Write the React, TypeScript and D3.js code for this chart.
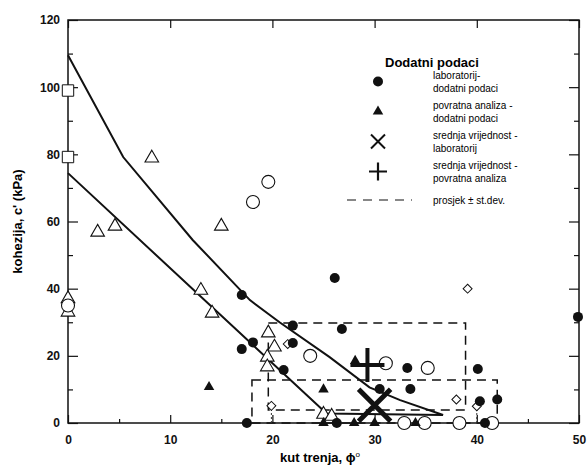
import React, { useEffect, useRef } from 'react';
import * as d3 from 'd3';

// axis ticks
const xTicks = [0, 10, 20, 30, 40, 50];
const xMinor = [5, 15, 25, 35, 45];
const yTicks = [0, 20, 40, 60, 80, 100, 120];
const yMinor = [10, 30, 50, 70, 90, 110];

// original data (open symbols) [phi, c]
const openSquares = [[0, 99], [0, 79.2]];
const openTriangles = [
  [0, 37], [0, 33], [2.9, 56.8], [4.6, 58.6], [8.2, 78.9], [15.0, 58.6],
  [13.0, 39.5], [14.1, 32.7], [19.6, 26.8], [20.2, 22.6], [19.5, 19.6],
  [19.5, 16.7], [25.0, 2.6], [25.8, 2.0],
];
const openCircles = [
  [0, 35], [19.6, 71.8], [18.1, 65.8], [23.7, 20.0], [31.1, 17.8], [35.2, 16.4],
  [32.9, 0], [34.9, 0], [38.3, 0], [41.5, 0],
];
const openDiamonds = [[19.9, 5.1], [21.5, 23.5], [38.0, 7.0], [40.0, 5.0], [39.1, 40]];
const diamondBars = [[19.9, 0, 5.1], [40.0, 0, 5.0]];

// dodatni podaci
const labExtra = [
  [17.0, 38.1], [26.1, 43.2], [17.0, 22.0], [18.1, 24.0], [22.0, 29.0],
  [26.8, 28.0], [22.0, 23.8], [21.1, 15.8], [17.5, 0], [26.3, 0],
  [30.5, 10.1], [33.5, 10.1], [33.2, 16.4], [40.1, 16.1], [40.3, 6.5],
  [42.0, 7.0], [40.8, 0], [49.9, 31.6],
];
const backExtra = [
  [13.8, 10.7], [25.0, 10.0], [28.1, 18.5], [25.0, 0], [28.0, 0], [30.0, 0], [34.0, 0],
];
const labMean = [30.0, 5.3];
const backMean = [29.3, 17.3];

// envelopes
const upperEnvelope = [
  [0, 109.5], [5.4, 79.2], [12.2, 54.5], [17.8, 36.6], [20.7, 30], [25.6, 19.6],
  [29.5, 10.6], [32.5, 6.8], [36.7, 2.4],
];
const lowerEnvelope = [[0, 74.4], [25.3, 2.8], [36.7, 2.4]];

// prosjek +- st.dev. boxes: [phiMin, phiMax, cMin, cMax]
const sdBoxes = [[19.6, 38.9, 3.9, 29.8], [18.0, 42.0, 0, 12.8]];

const legendItems = [
  { sym: 'circle', lines: ['laboratorij-', 'dodatni podaci'] },
  { sym: 'triangle', lines: ['povratna analiza -', 'dodatni podaci'] },
  { sym: 'cross', lines: ['srednja vrijednost -', 'laboratorij'] },
  { sym: 'plus', lines: ['srednja vrijednost -', 'povratna analiza'] },
  { sym: 'dash', lines: ['prosjek \u00b1 st.dev.'] },
];

const W = 588;
const H = 466;
const FONT = '"Liberation Sans", Arial, sans-serif';

export default function App() {
  const ref = useRef<SVGSVGElement>(null);

  useEffect(() => {
    const svg = d3.select(ref.current);
    svg.selectAll('*').remove();

    const x = d3.scaleLinear().domain([0, 50]).range([68, 579]);
    const y = d3.scaleLinear().domain([0, 120]).range([423, 20]);

    const g = svg.append('g');

    // frame
    g.append('rect')
      .attr('x', x(0)).attr('y', y(120))
      .attr('width', x(50) - x(0)).attr('height', y(0) - y(120))
      .attr('fill', 'none').attr('stroke', '#111').attr('stroke-width', 1.5);

    const axisStyle = (sel: any) => {
      sel.select('.domain').remove();
      sel.selectAll('line').attr('stroke', '#111').attr('stroke-width', 1.2);
      sel.selectAll('text')
        .style('font-family', FONT).style('font-size', '12px').style('font-weight', 'bold')
        .attr('fill', '#111');
    };

    // major / minor ticks, all pointing inward
    g.append('g').attr('transform', `translate(0,${y(0)})`)
      .call(d3.axisBottom(x).tickValues(xTicks).tickSize(-8).tickPadding(12))
      .call(axisStyle);
    g.append('g').attr('transform', `translate(0,${y(0)})`)
      .call(d3.axisBottom(x).tickValues(xMinor).tickSize(-4).tickFormat(() => ''))
      .call(axisStyle);
    g.append('g').attr('transform', `translate(0,${y(120)})`)
      .call(d3.axisTop(x).tickValues(xTicks).tickSize(-8).tickFormat(() => ''))
      .call(axisStyle);
    g.append('g').attr('transform', `translate(${x(0)},0)`)
      .call(d3.axisLeft(y).tickValues(yTicks).tickSize(-10).tickPadding(8))
      .call(axisStyle);
    g.append('g').attr('transform', `translate(${x(0)},0)`)
      .call(d3.axisLeft(y).tickValues(yMinor).tickSize(-5).tickFormat(() => ''))
      .call(axisStyle);
    g.append('g').attr('transform', `translate(${x(50)},0)`)
      .call(d3.axisRight(y).tickValues(yTicks).tickSize(-10).tickFormat(() => ''))
      .call(axisStyle);
    g.append('g').attr('transform', `translate(${x(50)},0)`)
      .call(d3.axisRight(y).tickValues(yMinor).tickSize(-5).tickFormat(() => ''))
      .call(axisStyle);

    // axis titles
    g.append('text')
      .attr('x', 320).attr('y', 462)
      .attr('text-anchor', 'middle')
      .style('font-family', FONT).style('font-size', '13px').style('font-weight', 'bold')
      .text('kut trenja, \u03d5')
      .append('tspan').attr('dy', -5).style('font-size', '8px').style('font-weight', 'normal').text('o');
    g.append('text')
      .attr('transform', `translate(22,${(y(0) + y(120)) / 2}) rotate(-90)`)
      .attr('text-anchor', 'middle')
      .style('font-family', FONT).style('font-size', '13px').style('font-weight', 'bold')
      .text("kohezija, c'  (kPa)");

    // st.dev. boxes
    g.selectAll('.box').data(sdBoxes).enter().append('rect')
      .attr('x', (d) => x(d[0])).attr('y', (d) => y(d[3]))
      .attr('width', (d) => x(d[1]) - x(d[0])).attr('height', (d) => y(d[2]) - y(d[3]))
      .attr('fill', 'none').attr('stroke', '#111').attr('stroke-width', 1.5)
      .attr('stroke-dasharray', '9,6');

    g.selectAll('.bar').data(diamondBars).enter().append('line')
      .attr('x1', (d) => x(d[0])).attr('x2', (d) => x(d[0]))
      .attr('y1', (d) => y(d[1])).attr('y2', (d) => y(d[2]))
      .attr('stroke', '#333').attr('stroke-width', 1).attr('stroke-dasharray', '2,2');

    // envelopes
    const line = d3.line().x((d: any) => x(d[0])).y((d: any) => y(d[1]));
    [upperEnvelope, lowerEnvelope].forEach((pts) => {
      g.append('path').attr('d', line(pts as any))
        .attr('fill', 'none').attr('stroke', '#111').attr('stroke-width', 2);
    });

    const sym = (type: any, size: number) => d3.symbol().type(type).size(size)();

    // open symbols
    g.selectAll('.osq').data(openSquares).enter().append('path')
      .attr('d', sym(d3.symbolSquare, 130))
      .attr('transform', (d) => `translate(${x(d[0])},${y(d[1])})`)
      .attr('fill', 'white').attr('stroke', '#111').attr('stroke-width', 1);
    g.selectAll('.otr').data(openTriangles).enter().append('path')
      .attr('d', sym(d3.symbolTriangle, 80))
      .attr('transform', (d) => `translate(${x(d[0])},${y(d[1])})`)
      .attr('fill', 'white').attr('stroke', '#111').attr('stroke-width', 1.1);
    g.selectAll('.oci').data(openCircles).enter().append('circle')
      .attr('cx', (d) => x(d[0])).attr('cy', (d) => y(d[1])).attr('r', 6.5)
      .attr('fill', 'white').attr('stroke', '#111').attr('stroke-width', 1.1);
    g.selectAll('.odi').data(openDiamonds).enter().append('path')
      .attr('d', sym(d3.symbolSquare, 40))
      .attr('transform', (d) => `translate(${x(d[0])},${y(d[1])}) rotate(45)`)
      .attr('fill', 'white').attr('stroke', '#111').attr('stroke-width', 1);

    // dodatni podaci
    g.selectAll('.fci').data(labExtra).enter().append('circle')
      .attr('cx', (d) => x(d[0])).attr('cy', (d) => y(d[1])).attr('r', 5)
      .attr('fill', '#111');
    g.selectAll('.ftr').data(backExtra).enter().append('path')
      .attr('d', sym(d3.symbolTriangle, 48))
      .attr('transform', (d) => `translate(${x(d[0])},${y(d[1])})`)
      .attr('fill', '#111');

    const drawCross = (cx: number, cy: number, r: number, w: number) => {
      g.append('path')
        .attr('d', `M${cx - r},${cy - r}L${cx + r},${cy + r}M${cx - r},${cy + r}L${cx + r},${cy - r}`)
        .attr('stroke', '#111').attr('stroke-width', w).attr('fill', 'none');
    };
    const drawPlus = (cx: number, cy: number, r: number, w: number) => {
      g.append('path')
        .attr('d', `M${cx - r},${cy}L${cx + r},${cy}M${cx},${cy - r}L${cx},${cy + r}`)
        .attr('stroke', '#111').attr('stroke-width', w).attr('fill', 'none');
    };
    drawCross(x(labMean[0]), y(labMean[1]), 16, 5);
    drawPlus(x(backMean[0]), y(backMean[1]), 17, 4);

    // legend
    const lg = g.append('g');
    lg.append('text')
      .attr('x', 385).attr('y', 67)
      .style('font-family', FONT).style('font-size', '13px').style('font-weight', 'bold')
      .text('Dodatni podaci');
    const rowY = [75, 105, 135, 165, 200];
    legendItems.forEach((it, i) => {
      const ty = rowY[i];
      it.lines.forEach((t, j) => {
        lg.append('text')
          .attr('x', 433).attr('y', ty + j * 13.5 + 3.5)
          .style('font-family', FONT).style('font-size', '10px')
          .text(t);
      });
      const my = it.lines.length > 1 ? ty + 6.5 : ty;
      const mx = 378;
      if (it.sym === 'circle') {
        lg.append('circle').attr('cx', mx).attr('cy', my).attr('r', 5).attr('fill', '#111');
      } else if (it.sym === 'triangle') {
        lg.append('path').attr('d', sym(d3.symbolTriangle, 48))
          .attr('transform', `translate(${mx},${my})`).attr('fill', '#111');
      } else if (it.sym === 'cross') {
        drawCross(mx, my, 7, 2);
      } else if (it.sym === 'plus') {
        drawPlus(mx, my, 9, 2.2);
      } else {
        lg.append('line').attr('x1', 347).attr('x2', 412).attr('y1', my).attr('y2', my)
          .attr('stroke', '#111').attr('stroke-width', 1.2).attr('stroke-dasharray', '9,7');
      }
    });
  }, []);

  return (
    <svg
      ref={ref}
      width={W}
      height={H}
      style={{ position: 'absolute', left: 0, top: 0, background: 'white' }}
    />
  );
}
